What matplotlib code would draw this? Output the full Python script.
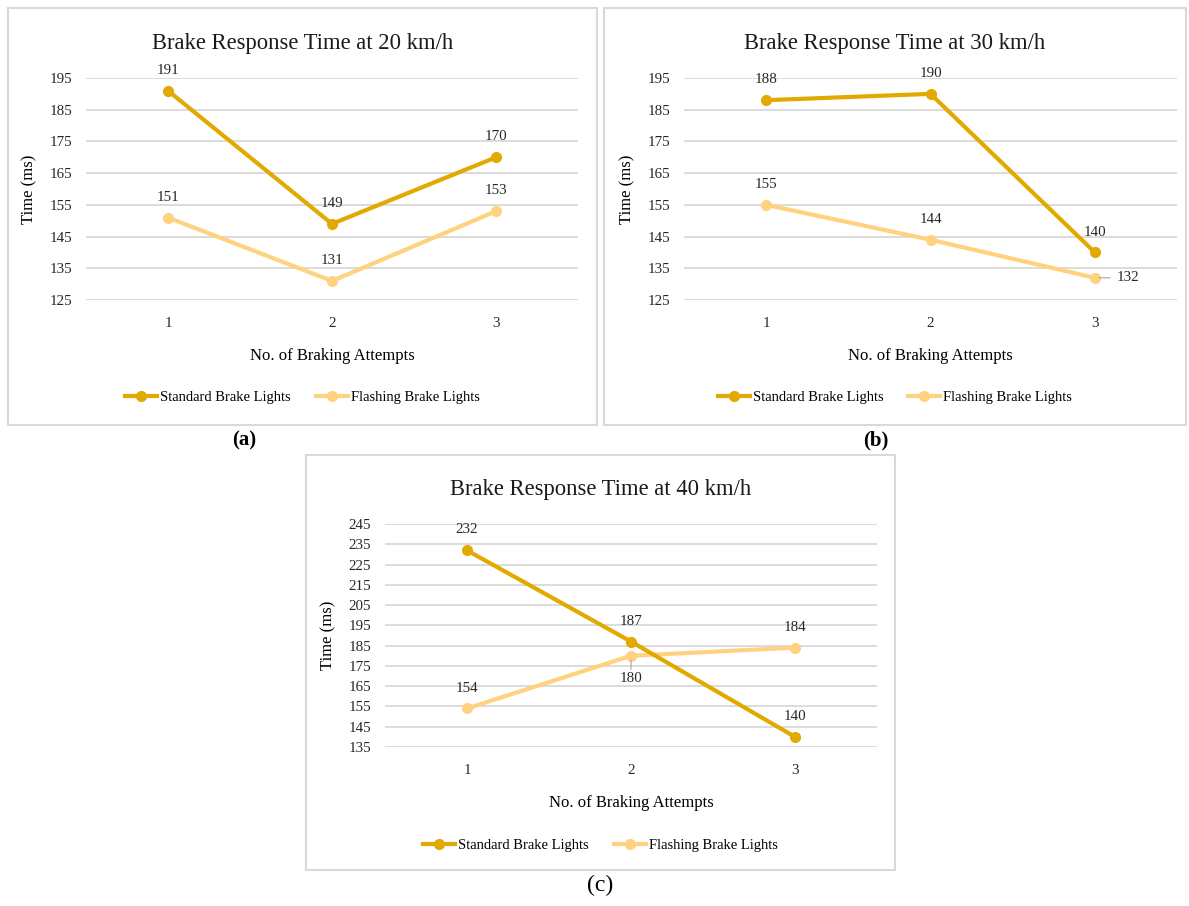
import matplotlib.pyplot as plt
from matplotlib.patches import Rectangle

plt.rcParams['font.family'] = ['Liberation Serif', 'DejaVu Serif']

attempts = [1, 2, 3]
speeds = ['20', '30', '40']
standard = [[191, 149, 170], [188, 190, 140], [232, 187, 140]]
flashing = [[151, 131, 153], [155, 144, 132], [154, 180, 184]]
y_ticks = [list(range(125, 196, 10)), list(range(125, 196, 10)), list(range(135, 246, 10))]
panel_tags = ['(a)', '(b)', '(c)']

W, H = 1189, 906
STD_COLOR = '#E2A900'
FLS_COLOR = '#FFD27F'
GRID = '#D9D9D9'

fig = plt.figure(figsize=(W / 100, H / 100), dpi=100)


def px_rect(x0, y0, x1, y1):
    return [x0 / W, (H - y1) / H, (x1 - x0) / W, (y1 - y0) / H]


# chart frames (x0, y0, x1, y1) and plot areas in pixels
frames = [(8, 8, 597, 425), (604, 8, 1186, 425), (306, 455, 895, 870)]
plots = [(86, 78, 578, 300), (684, 78, 1177, 300), (385, 524, 877, 747)]

for i in range(3):
    fx0, fy0, fx1, fy1 = frames[i]
    fig.patches.append(Rectangle((fx0 / W, (H - fy1) / H), (fx1 - fx0) / W, (fy1 - fy0) / H,
                                 transform=fig.transFigure, fill=False,
                                 edgecolor=GRID, linewidth=1.5))
    ax = fig.add_axes(px_rect(*plots[i]))
    ax.plot(attempts, standard[i], color=STD_COLOR, lw=3, marker='o', ms=7,
            label='Standard Brake Lights', zorder=3)
    ax.plot(attempts, flashing[i], color=FLS_COLOR, lw=3, marker='o', ms=7,
            label='Flashing Brake Lights', zorder=2)

    ax.set_xlim(0.5, 3.5)
    ax.set_ylim(y_ticks[i][0], y_ticks[i][-1])
    ax.set_xticks(attempts)
    ax.set_yticks(y_ticks[i])
    ax.tick_params(length=0, labelsize=10.8, colors='#262626')
    ax.tick_params(axis='y', pad=10)
    ax.tick_params(axis='x', pad=12)
    ax.grid(axis='y', color=GRID, lw=1.3)
    ax.set_axisbelow(True)
    for s in ax.spines.values():
        s.set_visible(False)

    ax.set_ylabel('Time (ms)', fontsize=12)
    ax.yaxis.set_label_coords(-0.098, 0.5)
    ax.set_xlabel('No. of Braking Attempts', fontsize=12)
    ax.xaxis.set_label_coords(0.5, -0.215)

    # data labels
    for x, v in zip(attempts, standard[i]):
        ax.annotate(str(v), (x, v), xytext=(0, 10), textcoords='offset points',
                    ha='center', va='bottom', fontsize=10.8, color='#262626')
    for j, (x, v) in enumerate(zip(attempts, flashing[i])):
        if i == 1 and j == 2:
            ax.annotate(str(v), (x, v), xytext=(16, 0), textcoords='offset points',
                        ha='left', va='center', fontsize=10.8, color='#262626',
                        arrowprops=dict(arrowstyle='-', color='#A6A6A6', lw=0.8,
                                        shrinkA=3, shrinkB=3))
        elif i == 2 and j == 1:
            ax.annotate(str(v), (x, v), xytext=(0, -12), textcoords='offset points',
                        ha='center', va='top', fontsize=10.8, color='#262626',
                        arrowprops=dict(arrowstyle='-', color='#A6A6A6', lw=0.8,
                                        shrinkA=0, shrinkB=3))
        else:
            ax.annotate(str(v), (x, v), xytext=(0, 10), textcoords='offset points',
                        ha='center', va='bottom', fontsize=10.8, color='#262626')

    px0, py0, px1, py1 = plots[i]
    cx = ((fx0 + fx1) / 2 - px0) / (px1 - px0)
    ax.legend(loc='center', bbox_to_anchor=(cx, -0.44), ncol=2, frameon=False,
              fontsize=10.5, handlelength=2.2, handletextpad=0.2, columnspacing=1.7)

    fig.text((fx0 + fx1) / 2 / W, 1 - (fy0 + 35) / H,
             f'Brake Response Time at {speeds[i]} km/h',
             ha='center', va='center', fontsize=16.3, color='#1a1a1a')

fig.text(244 / W, 1 - 440 / H, panel_tags[0], ha='center', va='center',
         fontsize=15, fontweight='bold')
fig.text(876 / W, 1 - 440 / H, panel_tags[1], ha='center', va='center',
         fontsize=15, fontweight='bold')
fig.text(600 / W, 1 - 885 / H, panel_tags[2], ha='center', va='center', fontsize=17)

fig.savefig('out.png', dpi=100)
